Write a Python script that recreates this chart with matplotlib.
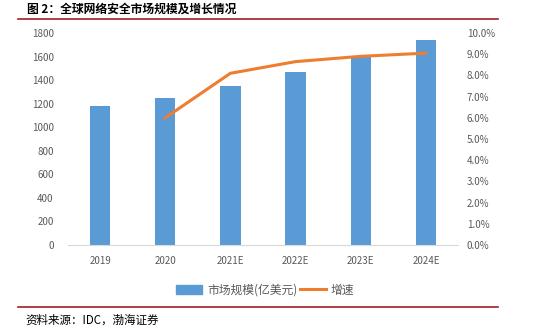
import matplotlib.pyplot as plt
from matplotlib.lines import Line2D
from matplotlib.patches import Patch
from matplotlib.ticker import FuncFormatter

plt.rcParams['font.family'] = ['Noto Sans CJK SC', 'DejaVu Sans']

years = ["2019", "2020", "2021E", "2022E", "2023E", "2024E"]
market = [1180, 1250, 1350, 1470, 1600, 1740]
growth_x = ["2020", "2021E", "2022E", "2023E", "2024E"]
growth = [6.0, 8.1, 8.65, 8.9, 9.05]

BLUE = "#5b9bd5"
ORANGE = "#ed7d31"
GRAY = "#595959"
RED = "#a31f24"


def main():
    fig = plt.figure(figsize=(5.43, 3.33), dpi=100)
    ax = fig.add_axes([67.5 / 543, 1 - 245 / 333, 391 / 543, 212 / 333])
    xs = list(range(len(years)))
    ax.bar(xs, market, width=0.31, color=BLUE, zorder=2)
    ax.set_xlim(-0.5, len(years) - 0.5)
    ax.set_ylim(0, 1800)
    ax.set_yticks(range(0, 1801, 200))
    ax.set_xticks(xs)
    ax.set_xticklabels(years)
    for s in ["top", "right", "left"]:
        ax.spines[s].set_visible(False)
    ax.spines["bottom"].set_color("#d9d9d9")
    ax.tick_params(axis="both", length=0, colors=GRAY, labelsize=7)
    ax.tick_params(axis="x", pad=8)
    ax.tick_params(axis="y", pad=10)

    ax2 = ax.twinx()
    gx = [years.index(y) for y in growth_x]
    ax2.plot(gx, growth, color=ORANGE, lw=2.2, zorder=3)
    ax2.set_ylim(0, 10)
    ax2.set_yticks(range(0, 11))
    ax2.yaxis.set_major_formatter(FuncFormatter(lambda v, p: f"{v:.1f}%"))
    for s in ax2.spines.values():
        s.set_visible(False)
    ax2.tick_params(axis="y", length=0, colors=GRAY, labelsize=7, pad=6)

    handles = [Patch(color=BLUE, label="市场规模(亿美元)"),
               Line2D([], [], color=ORANGE, lw=2.2, label="增速")]
    fig.legend(handles=handles, loc="center", bbox_to_anchor=(265 / 543, 1 - 290 / 333),
               ncol=2, frameon=False, fontsize=8.5, labelcolor=GRAY,
               handlelength=2.2, handletextpad=0.4, columnspacing=0.2)

    # header and footer
    fig.text(27 / 543, 1 - 9 / 333, "图 2：全球网络安全市场规模及增长情况",
             fontsize=8.5, fontweight="heavy", va="center", color="black")
    fig.add_artist(Line2D([18 / 543, 498 / 543], [1 - 18.5 / 333] * 2,
                          color=RED, lw=1.2))
    fig.add_artist(Line2D([18 / 543, 498 / 543], [1 - 307 / 333] * 2,
                          color=RED, lw=1.2))
    fig.text(25 / 543, 1 - 320 / 333, "资料来源：IDC，渤海证券",
             fontsize=8.3, style="italic", va="center", color="black")

    fig.savefig("out.png", dpi=100)


if __name__ == "__main__":
    main()
